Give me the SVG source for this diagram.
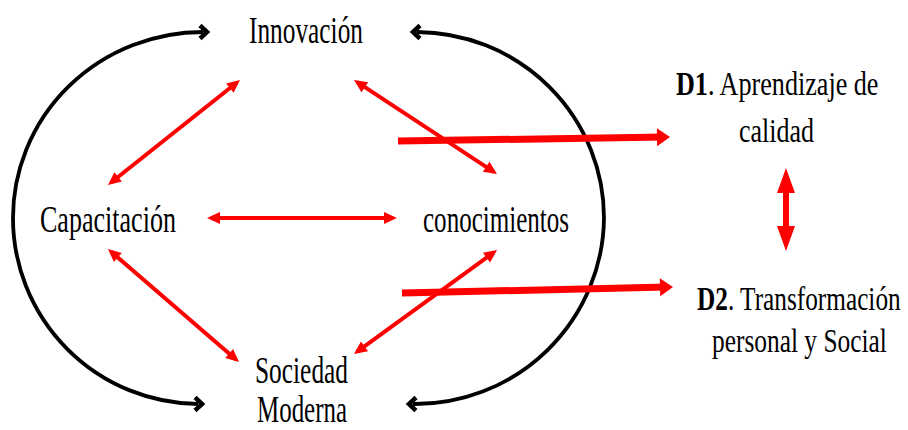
<svg xmlns="http://www.w3.org/2000/svg" width="908" height="430" viewBox="0 0 908 430">
<style>
  .lbl { font-family: "Liberation Serif", "Times New Roman", serif; font-size: 37px; fill: #000; }
  .dl { font-family: "Liberation Serif", "Times New Roman", serif; font-size: 34px; fill: #000; }
  .b { font-weight: bold; }
  .arc { fill: none; stroke: #000; stroke-width: 3.8; }
  .thin { fill: none; stroke: #FF0000; stroke-width: 4; marker-start: url(#rh); marker-end: url(#rh); }
  .thick { fill: none; stroke: #FF0000; stroke-width: 7; marker-end: url(#th); }
</style>
<defs>
  <marker id="bh" markerUnits="userSpaceOnUse" orient="auto-start-reverse" refX="-5" refY="0" markerWidth="20" markerHeight="20" overflow="visible">
    <path d="M-8,-6.5 L-1,0 L-8,6.5" fill="none" stroke="#000" stroke-width="4.5" stroke-linejoin="miter" stroke-miterlimit="6"/>
  </marker>
  <marker id="rh" markerUnits="userSpaceOnUse" orient="auto-start-reverse" refX="-4" refY="0" markerWidth="20" markerHeight="20" overflow="visible">
    <path d="M0,0 L-13,-6 L-13,6 z" fill="#FF0000"/>
  </marker>
  <marker id="th" markerUnits="userSpaceOnUse" orient="auto" refX="-6" refY="0" markerWidth="20" markerHeight="20" overflow="visible">
    <path d="M0,0 L-13,-9 L-13,9 z" fill="#FF0000"/>
  </marker>
</defs>

<g id="connectors">
  <path class="arc" d="M203,32 A190,186 0 0 0 13,218 A187,186 0 0 0 198,404" marker-start="url(#bh)" marker-end="url(#bh)"/>
  <path class="arc" d="M417,32 A188,186 0 0 1 604,218 A189,188 0 0 1 413,404" marker-start="url(#bh)" marker-end="url(#bh)"/>
  <line class="thin" x1="236.9" y1="82.5" x2="111.1" y2="182.5"/>
  <line class="thin" x1="357.3" y1="82.2" x2="493.7" y2="171.8"/>
  <line class="thin" x1="211" y1="218" x2="393" y2="218"/>
  <line class="thin" x1="111" y1="251.6" x2="236" y2="359.4"/>
  <line class="thin" x1="493.8" y1="252.4" x2="357.2" y2="351.6"/>
  <line class="thick" x1="398" y1="141" x2="664" y2="137.1"/>
  <line class="thick" x1="402" y1="293" x2="667" y2="287.1"/>
  <polygon fill="#FF0000" points="786,168 795,193 789,193 789,226 795,226 786,251 777,226 783,226 783,193 777,193"/>
</g>

<g id="node-innovacion">
  <text class="lbl" transform="matrix(0.685,0,0,1,249,43)">Innovación</text>
</g>
<g id="node-capacitacion">
  <text class="lbl" transform="matrix(0.704,0,0,1,40,232)">Capacitación</text>
</g>
<g id="node-conocimientos">
  <text class="lbl" transform="matrix(0.677,0,0,1,423,232)">conocimientos</text>
</g>
<g id="node-sociedad">
  <text class="lbl" transform="matrix(0.686,0,0,1,255,383)">Sociedad</text>
  <text class="lbl" transform="matrix(0.674,0,0,1,257,422)">Moderna</text>
</g>
<g id="node-d1">
  <text class="dl" transform="matrix(0.769,0,0,1,676,95)"><tspan class="b">D1</tspan>. Aprendizaje de</text>
  <text class="dl" transform="matrix(0.764,0,0,1,739,142)">calidad</text>
</g>
<g id="node-d2">
  <text class="dl" transform="matrix(0.744,0,0,1,697,310)"><tspan class="b">D2</tspan>. Transformación</text>
  <text class="dl" transform="matrix(0.747,0,0,1,712,352)">personal y Social</text>
</g>
</svg>
